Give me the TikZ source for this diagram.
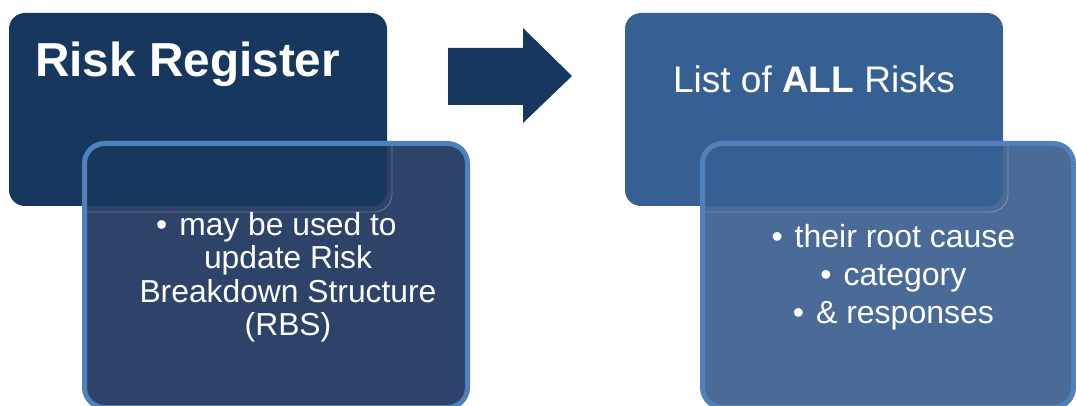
\documentclass[tikz,border=0pt]{standalone}
\usepackage{fontspec}
\setmainfont{Liberation Sans}
\usetikzlibrary{positioning}

\definecolor{navy}{HTML}{17375E}
\definecolor{notedark}{HTML}{2E4369}
\definecolor{midblue}{HTML}{376092}
\definecolor{notelight}{HTML}{4A6A98}
\definecolor{edgeblue}{HTML}{4F81BD}

\begin{document}
\begin{tikzpicture}[
    x=1pt, y=-1pt,
    bigcard/.style={rectangle, rounded corners=16pt, fill=#1, inner sep=0pt, outer sep=0pt, minimum width=378pt, minimum height=193pt, anchor=north west},
    notecard/.style={rectangle, rounded corners=20pt, fill=#1, inner sep=0pt, outer sep=0pt, minimum height=264pt, anchor=north west},
    noteedge/.style={draw=edgeblue, line width=5pt, rounded corners=20pt},
    faint/.style={draw=white, draw opacity=0.3, line width=0.8pt, rounded corners=18pt},
    body/.style={text=white, align=center, inner sep=0pt, anchor=north}
]
\useasboundingbox (0,0) rectangle (1076,406);
\clip (0,0) rectangle (1076,406);

% back cards with the notes
\node[notecard=notedark, minimum width=383pt] (regnote) at (84.5,143.5) {};
\node[notecard=notelight, minimum width=371pt] (listnote) at (702.5,143.5) {};
\draw[faint] (9,13) rectangle (392,212);
\draw[faint] (625,13) rectangle (1008,212);

% front cards
\node[bigcard=navy] (reg) at (9,13) {};
\node[bigcard=midblue] (list) at (625,13) {};

% note borders over the front cards
\draw[noteedge] (regnote.north west) rectangle (regnote.south east);
\draw[noteedge] (listnote.north west) rectangle (listnote.south east);

% big arrow
\fill[navy] (448,48) -- (523,48) -- (523,28) -- (572,76) -- (523,123) -- (523,105) -- (448,105) -- cycle;

% texts
\node[anchor=base west, text=white, inner sep=0pt, font=\fontsize{47.7}{57}\selectfont\bfseries] (regtitle) at (35,77) {Risk Register};
\node[anchor=base, text=white, inner sep=0pt, font=\fontsize{37}{44}\selectfont] (listtitle) at (814,93) {List of \textbf{ALL} Risks};

\node[body, font=\fontsize{31.8}{33.5}\selectfont] (regtext) at (288,212.2)
  {\llap{\textbullet\hspace{12pt}}may be used to\\update Risk\\Breakdown Structure\\(RBS)};
\node[body, font=\fontsize{32}{38}\selectfont] (listtext) at (905,224.1)
  {\llap{\textbullet\hspace{12pt}}their root cause\\\llap{\textbullet\hspace{12pt}}category\\\llap{\textbullet\hspace{12pt}}\& responses};

\end{tikzpicture}
\end{document}
